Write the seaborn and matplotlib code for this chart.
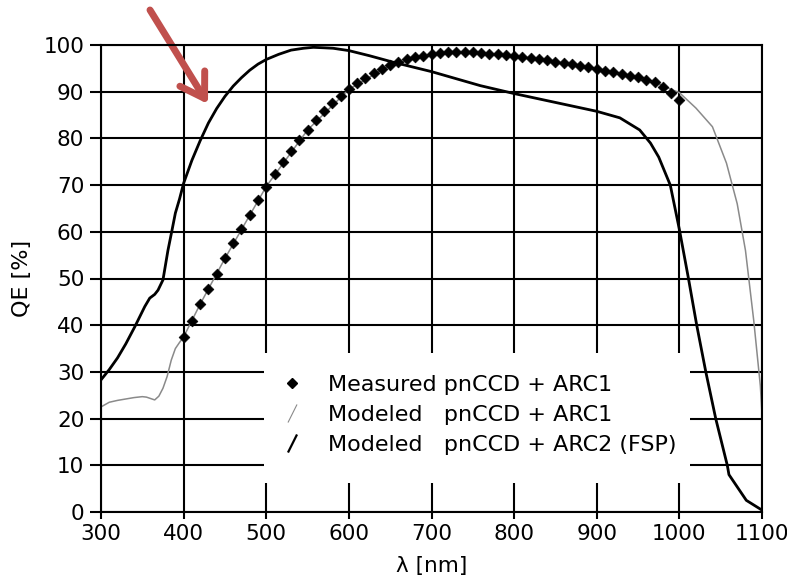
import numpy as np
import pandas as pd
import matplotlib
matplotlib.use("Agg")
import matplotlib.pyplot as plt
from matplotlib.path import Path
from matplotlib.lines import Line2D
from matplotlib.patches import Rectangle
import seaborn as sns

# ---------------- data ----------------
meas_wl = [400, 410, 420, 430, 440, 450, 460, 470, 480, 490,
           500, 510, 520, 530, 540, 550, 560, 570, 580, 590,
           600, 610, 620, 630, 640, 650, 660, 670, 680, 690,
           700, 710, 720, 730, 740, 750, 760, 770, 780, 790,
           800, 810, 820, 830, 840, 850, 860, 870, 880, 890,
           900, 910, 920, 930, 940, 950, 960, 970, 980, 990, 1000]
meas_qe = [37.5, 41.0, 44.5, 47.7, 51.0, 54.3, 57.5, 60.6, 63.7, 66.8,
           69.7, 72.3, 74.9, 77.3, 79.6, 81.8, 83.9, 85.9, 87.6, 89.1,
           90.5, 91.8, 92.9, 93.9, 94.9, 95.7, 96.3, 96.9, 97.4, 97.7,
           98.0, 98.2, 98.4, 98.4, 98.4, 98.4, 98.2, 98.1, 98.0, 97.9,
           97.6, 97.5, 97.3, 97.0, 96.8, 96.4, 96.2, 95.9, 95.6, 95.2,
           94.9, 94.5, 94.2, 93.8, 93.4, 93.1, 92.6, 92.0, 90.9, 89.8, 88.2]

arc1_wl = [300, 310, 320, 330, 340, 350, 355, 360, 365, 370, 375, 380, 385,
           390, 395, 400, 420, 450, 500, 550, 600, 650, 700, 750, 800, 850,
           900, 950, 970, 980, 990, 1000, 1020, 1040, 1057, 1070, 1080,
           1090, 1098, 1100]
arc1_qe = [22.5, 23.5, 23.9, 24.2, 24.5, 24.7, 24.6, 24.3, 24.0, 24.8, 26.5,
           29.0, 32.5, 35.0, 36.3, 37.5, 44.5, 54.3, 69.7, 81.8, 90.5, 95.7,
           98.0, 98.4, 97.6, 96.4, 94.9, 93.1, 92.1, 91.3, 90.5, 89.8, 86.5,
           82.5, 74.7, 66.0, 56.0, 41.0, 27.0, 21.0]

arc2_wl = [300, 310, 320, 330, 341, 353, 359, 365, 369, 375, 381, 386, 390,
           395, 400, 410, 420, 430, 440, 450, 460, 470, 480, 490, 500, 515,
           530, 545, 557, 570, 581, 600, 625, 654, 700, 759, 800, 850, 900,
           928, 952, 965, 975, 989, 1000, 1011, 1021, 1032, 1044, 1058, 1060,
           1081, 1100]
arc2_qe = [28.3, 30.5, 33.0, 36.0, 39.7, 44.0, 45.8, 46.6, 47.5, 49.7, 56.0,
           60.4, 64.0, 67.0, 70.4, 75.3, 79.5, 83.3, 86.4, 89.0, 91.2, 93.0,
           94.6, 95.9, 96.9, 98.0, 98.9, 99.3, 99.5, 99.4, 99.3, 98.8, 97.7,
           96.3, 94.3, 91.3, 89.6, 87.7, 85.8, 84.4, 81.8, 79.0, 76.0, 70.0,
           60.5, 50.0, 40.0, 30.0, 20.0, 10.0, 8.0, 2.5, 0.4]

x_ticks = [300, 400, 500, 600, 700, 800, 900, 1000, 1100]
y_ticks = [0, 10, 20, 30, 40, 50, 60, 70, 80, 90, 100]

legend_labels = ["Measured pnCCD + ARC1",
                 "Modeled   pnCCD + ARC1",
                 "Modeled   pnCCD + ARC2 (FSP)"]

# ---------------- style ----------------
sns.set_style("white")
plt.rcParams["font.family"] = ["DejaVu Sans"]
plt.rcParams["text.color"] = "black"
plt.rcParams["axes.labelcolor"] = "black"
plt.rcParams["xtick.color"] = "black"
plt.rcParams["ytick.color"] = "black"

fig = plt.figure(figsize=(7.87, 5.76), dpi=100)
ax = fig.add_axes([101 / 787, 64 / 576, 661 / 787, 467 / 576])

# grid lines
for xv in x_ticks:
    ax.axvline(xv, color="black", lw=1.5, zorder=1)
for yv in y_ticks:
    ax.axhline(yv, color="black", lw=1.5, zorder=1)

# white box hiding grid behind legend
ax.add_patch(Rectangle((0.2466, 0.062), 0.6444, 0.278, transform=ax.transAxes,
                       facecolor="white", edgecolor="none", zorder=2))

df_meas = pd.DataFrame({"wl": meas_wl, "qe": meas_qe})
df_a1 = pd.DataFrame({"wl": arc1_wl, "qe": arc1_qe})
df_a2 = pd.DataFrame({"wl": arc2_wl, "qe": arc2_qe})

sns.lineplot(data=df_a1, x="wl", y="qe", ax=ax, color="#8a8a8a", lw=1.1,
             sort=False, estimator=None, zorder=3)
sns.lineplot(data=df_a2, x="wl", y="qe", ax=ax, color="black", lw=2.0,
             sort=False, estimator=None, zorder=4)
sns.scatterplot(data=df_meas, x="wl", y="qe", ax=ax, marker="D", s=30,
                color="black", edgecolor="black", linewidth=0.5, zorder=5)

ax.set_xlim(300, 1100)
ax.set_ylim(0, 100)
ax.set_xticks(x_ticks)
ax.set_yticks(y_ticks)
ax.tick_params(axis="both", labelsize=15.5, labelcolor="black", width=1.5)
ax.tick_params(axis="y", direction="out", length=8, pad=4, left=True)
ax.tick_params(axis="x", direction="out", length=5, pad=4, bottom=True)
for sp in ax.spines.values():
    sp.set_color("black")
    sp.set_linewidth(1.5)
    sp.set_zorder(6)

ax.set_xlabel("λ [nm]", fontsize=15.5, labelpad=8)
ax.set_ylabel("QE [%]", fontsize=16, labelpad=8)

# legend
slash = Path([(-0.5, -1.0), (0.5, 1.0)], [Path.MOVETO, Path.LINETO])
handles = [
    Line2D([], [], ls="none", marker="D", markersize=5.5, color="black"),
    Line2D([], [], ls="none", marker=slash, markersize=13, mew=0.8,
           markeredgecolor="#8a8a8a"),
    Line2D([], [], ls="none", marker=slash, markersize=13, mew=1.6,
           markeredgecolor="black"),
]
leg = ax.legend(handles, legend_labels, loc="upper left",
                bbox_to_anchor=(0.269, 0.294), frameon=False,
                fontsize=16, handlelength=1.2, handletextpad=1.0,
                labelspacing=0.46, borderpad=0, borderaxespad=0)
leg.set_zorder(7)
for t in leg.get_texts():
    t.set_color("black")

# red arrow
ax.annotate("", xy=(208, 576 - 104), xycoords="figure pixels",
            xytext=(150, 576 - 10), textcoords="figure pixels",
            arrowprops=dict(arrowstyle="->,head_length=1.2,head_width=0.75",
                            mutation_scale=14,
                            color="#c0504d", lw=5, shrinkA=0, shrinkB=0),
            annotation_clip=False)

fig.savefig("out.png", dpi=100)
